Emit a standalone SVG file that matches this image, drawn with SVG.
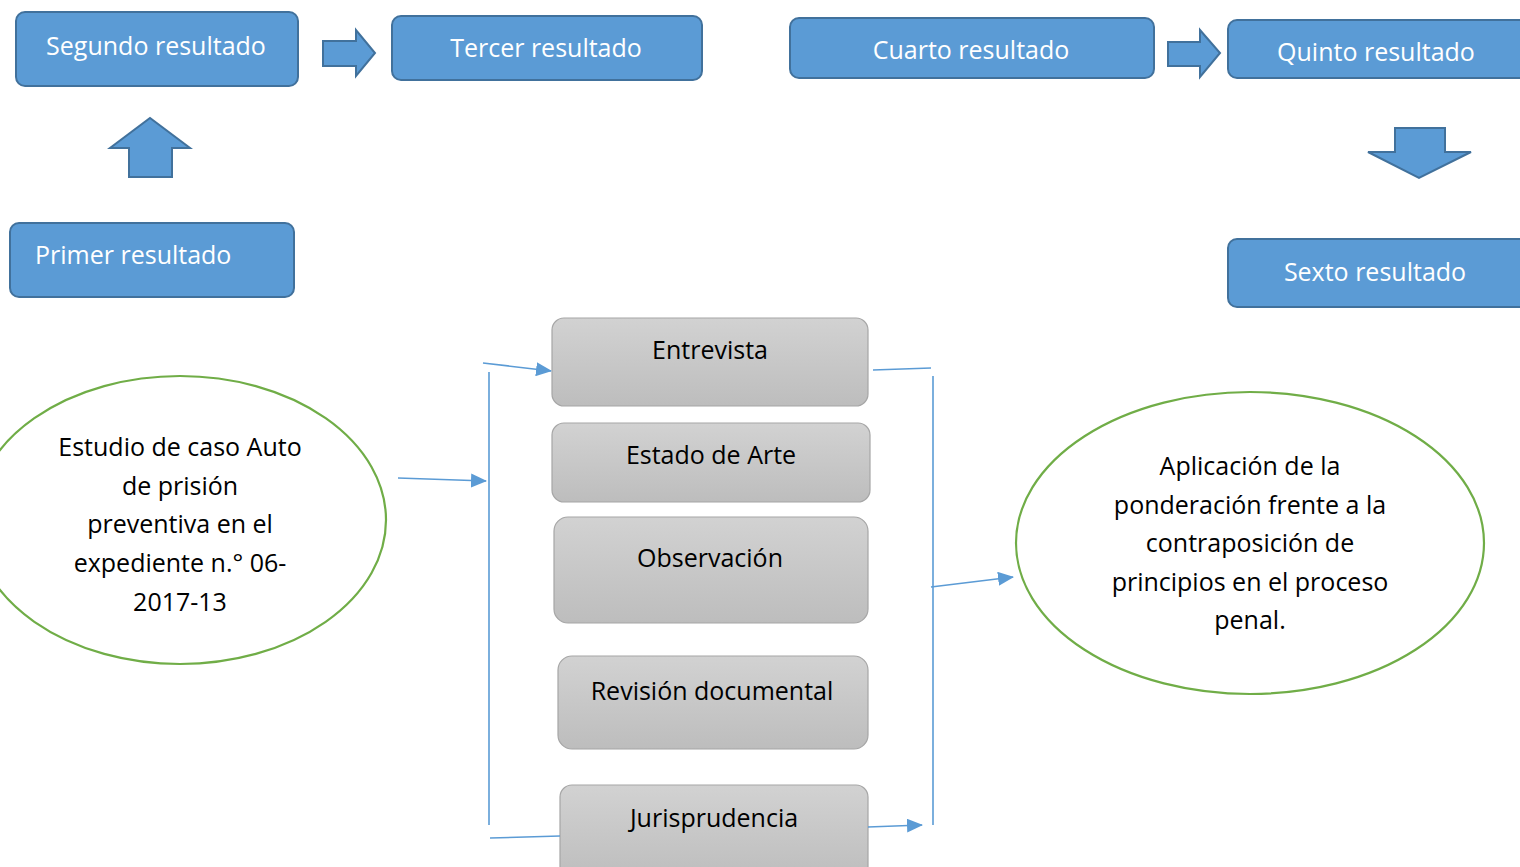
<svg xmlns="http://www.w3.org/2000/svg" width="1520" height="867" viewBox="0 0 1520 867">
<style>
.blue{fill:#5B9BD5;stroke:#41719C;stroke-width:2}
.wt{fill:#fff;font-family:"Open Sans","Liberation Sans",sans-serif;font-size:25px;text-anchor:middle}
.gray{fill:url(#g);stroke:#A6A6A6;stroke-width:1.2}
.bt{fill:#000;font-family:"Open Sans","Liberation Sans",sans-serif;font-size:25px;text-anchor:middle}
.ell{fill:#fff;stroke:#70AD47;stroke-width:2.2}
.con{stroke:#5B9BD5;stroke-width:1.6;fill:none}
</style>
<defs>
<linearGradient id="g" x1="0" y1="0" x2="0" y2="1">
<stop offset="0" stop-color="#D2D2D2"/>
<stop offset="1" stop-color="#BDBDBD"/>
</linearGradient>
<marker id="ah" markerWidth="16" markerHeight="14" refX="15" refY="7" orient="auto" markerUnits="userSpaceOnUse" viewBox="0 0 16 14">
<path d="M0,0 L16,7 L0,14 z" fill="#5B9BD5"/>
</marker>
</defs>
<rect width="1520" height="867" fill="#fff"/>

<g id="segundo"><rect class="blue" x="16" y="12" width="282" height="74" rx="9"/><text class="wt" x="156" y="55">Segundo resultado</text></g>
<g id="tercer"><rect class="blue" x="392" y="16" width="310" height="64" rx="9"/><text class="wt" x="546" y="57">Tercer resultado</text></g>
<g id="cuarto"><rect class="blue" x="790" y="18" width="364" height="60" rx="9"/><text class="wt" x="971" y="59">Cuarto resultado</text></g>
<g id="quinto"><rect class="blue" x="1228" y="20" width="300" height="58" rx="9"/><text class="wt" x="1376" y="61">Quinto resultado</text></g>
<g id="sexto"><rect class="blue" x="1228" y="239" width="300" height="68" rx="9"/><text class="wt" x="1375" y="281">Sexto resultado</text></g>
<g id="primer"><rect class="blue" x="10" y="223" width="284" height="74" rx="9"/><text class="wt" x="35" y="264" style="text-anchor:start">Primer resultado</text></g>

<g id="block-arrows">
<path class="blue" d="M129,177 L129,148 L110,148 L150,118 L190,148 L172,148 L172,177 Z"/>
<path class="blue" d="M323,41 L356,41 L356,30 L375,53 L356,76 L356,66 L323,66 Z"/>
<path class="blue" d="M1168,42 L1200,42 L1200,30 L1220,53 L1200,77 L1200,66 L1168,66 Z"/>
<path class="blue" d="M1395,128 L1445,128 L1445,152 L1471,152 L1419,178 L1368,152 L1395,152 Z"/>
</g>

<g id="entrevista"><rect class="gray" x="552" y="318" width="316" height="88" rx="12"/><text class="bt" x="710" y="359">Entrevista</text></g>
<g id="estado"><rect class="gray" x="552" y="423" width="318" height="79" rx="12"/><text class="bt" x="711" y="464">Estado de Arte</text></g>
<g id="observacion"><rect class="gray" x="554" y="517" width="314" height="106" rx="14"/><text class="bt" x="710" y="567">Observación</text></g>
<g id="revision"><rect class="gray" x="558" y="656" width="310" height="93" rx="14"/><text class="bt" x="712" y="700">Revisión documental</text></g>
<g id="jurisprudencia"><rect class="gray" x="560" y="785" width="308" height="95" rx="12"/><text class="bt" x="714" y="827">Jurisprudencia</text></g>

<g id="estudio"><ellipse class="ell" cx="180" cy="520" rx="206" ry="144"/>
<text class="bt"><tspan x="180" y="456">Estudio de caso Auto</tspan><tspan x="180" y="495">de prisión</tspan><tspan x="180" y="533">preventiva en el</tspan><tspan x="180" y="572">expediente n.° 06-</tspan><tspan x="180" y="611">2017-13</tspan></text></g>
<g id="aplicacion"><ellipse class="ell" cx="1250" cy="543" rx="234" ry="151"/>
<text class="bt"><tspan x="1250" y="475">Aplicación de la</tspan><tspan x="1250" y="514">ponderación frente a la</tspan><tspan x="1250" y="552">contraposición de</tspan><tspan x="1250" y="591">principios en el proceso</tspan><tspan x="1250" y="629">penal.</tspan></text></g>

<g id="connectors">
<line class="con" x1="483" y1="363" x2="551" y2="371" marker-end="url(#ah)"/>
<line class="con" x1="489" y1="372" x2="489" y2="825"/>
<line class="con" x1="398" y1="478" x2="486" y2="481" marker-end="url(#ah)"/>
<line class="con" x1="490" y1="838" x2="560" y2="836"/>
<line class="con" x1="873" y1="370" x2="931" y2="368"/>
<line class="con" x1="933" y1="376" x2="933" y2="825"/>
<line class="con" x1="931" y1="587" x2="1013" y2="577" marker-end="url(#ah)"/>
<line class="con" x1="868" y1="827" x2="922" y2="825" marker-end="url(#ah)"/>
</g>
</svg>
